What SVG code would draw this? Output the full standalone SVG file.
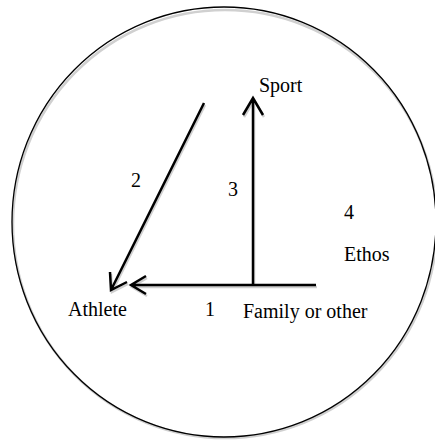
<svg xmlns="http://www.w3.org/2000/svg" width="435" height="441" viewBox="0 0 435 441">
<style>
.t{font-family:"Liberation Serif","Times New Roman",serif;font-size:20px;fill:#000}
.ln{fill:none;stroke:#000;stroke-width:2.5;stroke-linecap:butt;stroke-linejoin:miter}
.sh{fill:none;stroke:#d0d0d0;stroke-width:2.5}
</style>
<rect width="435" height="441" fill="#fff"/>
<g id="ethos-circle">
<ellipse cx="225" cy="224" rx="212" ry="214" class="sh" stroke-width="1.5"/>
<ellipse cx="224" cy="222" rx="212" ry="215" fill="none" stroke="#000" stroke-width="1.3"/>
</g>
<g id="connectors">
<g transform="translate(1,2)">
<path class="sh" d="M316 285H131M146 276L131 285L146 294"/>
<path class="sh" d="M253 285V98M243 115L253 98L263 115"/>
<path class="sh" d="M204 103L111 290M110 272L111 290L127 282"/>
</g>
<path id="arrow1" class="ln" d="M316 285H131M146 276L131 285L146 294"/>
<path id="arrow3" class="ln" d="M253 285V98M243 115L253 98L263 115"/>
<path id="arrow2" class="ln" d="M204 103L111 290M110 272L111 290L127 282"/>
</g>
<g id="athlete"><text class="t" x="68" y="316">Athlete</text></g>
<g id="family"><text class="t" x="243" y="318">Family or other</text></g>
<g id="sport"><text class="t" x="259" y="92">Sport</text></g>
<g id="ethos"><text class="t" x="344" y="219">4</text><text class="t" x="344" y="261">Ethos</text></g>
<g id="labels">
<text class="t" x="205" y="316">1</text>
<text class="t" x="131" y="187">2</text>
<text class="t" x="228" y="196">3</text>
</g>
</svg>
